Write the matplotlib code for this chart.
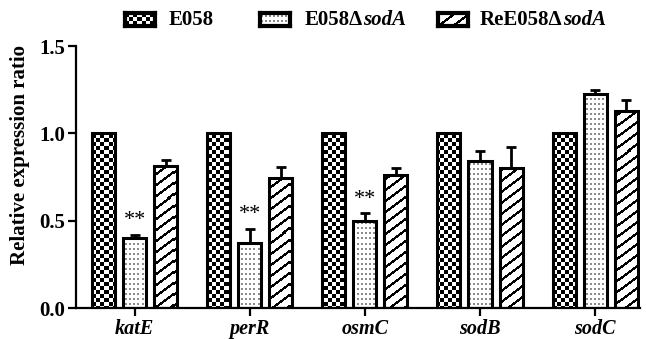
import numpy as np
import matplotlib
matplotlib.use("Agg")
import matplotlib.pyplot as plt

plt.rcParams['font.family'] = ['Liberation Serif', 'DejaVu Serif']

genes = ["katE", "perR", "osmC", "sodB", "sodC"]
series_names = ["E058", "E058Δ", "ReE058Δ"]
wt_vals = [1.0, 1.0, 1.0, 1.0, 1.0]
mut_vals = [0.40, 0.37, 0.50, 0.84, 1.225]
mut_err = [0.02, 0.085, 0.042, 0.057, 0.025]
comp_vals = [0.815, 0.745, 0.76, 0.80, 1.13]
comp_err = [0.03, 0.06, 0.04, 0.12, 0.063]
signif = ["**", "**", "**", "", ""]

W_PX, H_PX = 646, 339
fig = plt.figure(figsize=(W_PX / 100, H_PX / 100), dpi=100)
ax_l, ax_r, ax_t, ax_b = 76, 640, 46, 308
ax = fig.add_axes([ax_l / W_PX, 1 - ax_b / H_PX, (ax_r - ax_l) / W_PX, (ax_b - ax_t) / H_PX])

XLIM = (-0.51, 4.39)
YLIM = (0, 1.5)


def pattern(h, w, kind):
    i, j = np.mgrid[0:h, 0:w]
    rgba = np.ones((h, w, 4))
    if kind == "checker":
        mask = ((i // 4 + j // 4) % 2) == 0
        rgba[mask, :3] = 0.0
    elif kind == "dots":
        mask = np.isin(i % 5, [2, 3]) & np.isin(j % 4, [1, 2])
        rgba[mask, :3] = 0.55
    else:
        mask = ((i + 0.75 * j) % 11) < 3.0
        rgba[mask, :3] = 0.0
    return rgba


x = np.arange(len(genes))
offsets = [-0.27, 0.0, 0.27]
width = 0.2
kinds = ["checker", "dots", "lines"]
all_vals = [wt_vals, mut_vals, comp_vals]
all_errs = [None, mut_err, comp_err]

ph, pw = ax_b - ax_t, ax_r - ax_l
for vals, errs, off, kind in zip(all_vals, all_errs, offsets, kinds):
    bars = ax.bar(x + off, vals, width, color="white", edgecolor="none", zorder=1)
    img = pattern(ph, pw, kind)
    for b in bars:
        im = ax.imshow(img, extent=(XLIM[0], XLIM[1], YLIM[0], YLIM[1]), origin="upper",
                       aspect="auto", interpolation="nearest", zorder=2)
        im.set_clip_path(b)
    ax.bar(x + off, vals, width, facecolor="none", edgecolor="black", linewidth=2.2, zorder=4)
    if errs is not None:
        ax.errorbar(x + off, vals, yerr=[np.zeros(len(vals)), errs], fmt="none",
                    ecolor="black", elinewidth=2, capsize=3.6, capthick=2, zorder=3)

for xi, v, e, s in zip(x, mut_vals, mut_err, signif):
    if s:
        ax.text(xi, v + e + 0.025, s, ha="center", va="bottom", fontsize=16)

ax.set_xlim(*XLIM)
ax.set_ylim(*YLIM)
ax.set_yticks([0, 0.5, 1.0, 1.5])
ax.set_yticklabels(["0.0", "0.5", "1.0", "1.5"], fontweight="bold", fontsize=15)
ax.set_xticks(x)
ax.set_xticklabels(genes, fontstyle="italic", fontweight="bold", fontsize=14.5)
ax.set_ylabel("Relative expression ratio", fontweight="bold", fontsize=15)
ax.yaxis.set_label_coords(-0.082, 0.585)
for sp in ["top", "right"]:
    ax.spines[sp].set_visible(False)
for sp in ["left", "bottom"]:
    ax.spines[sp].set_linewidth(1.6)
ax.tick_params(direction="out", length=6, width=1.6, pad=2)

# legend: patterned swatches with labels
renderer = fig.canvas.get_renderer()
swatch_x = [125, 260, 438]
text_x = [169, 305, 480]
for kind, sx, tx, name in zip(kinds, swatch_x, text_x, series_names):
    sax = fig.add_axes([sx / W_PX, 1 - 26 / H_PX, 30 / W_PX, 13 / H_PX])
    sax.imshow(pattern(13, 30, kind), aspect="auto", interpolation="nearest")
    sax.set_xticks([])
    sax.set_yticks([])
    for sp in sax.spines.values():
        sp.set_linewidth(3)
    t = fig.text(tx / W_PX, 1 - 20 / H_PX, name, fontsize=15, fontweight="bold", va="center")
    if name != "E058":
        bb = t.get_window_extent(renderer)
        fig.text(bb.x1 / W_PX, 1 - 20 / H_PX, "sodA", fontsize=15, fontweight="bold",
                 fontstyle="italic", va="center")

fig.savefig("out.png", dpi=100)
